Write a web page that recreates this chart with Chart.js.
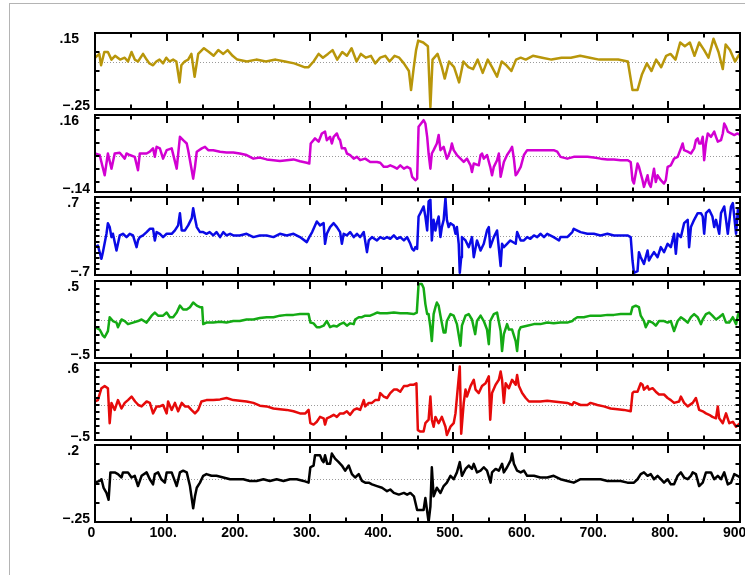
<!DOCTYPE html>
<html>
<head>
<meta charset="utf-8">
<script src="https://cdn.jsdelivr.net/npm/chart.js@4"></script>
<style>
  body { margin: 0; background: #fff; }
  #page { position: relative; width: 745px; height: 575px; overflow: hidden; }
  #frame { position: absolute; left: 9px; top: 3px; width: 900px; height: 700px;
           border-top: 1px solid #b4b4b4; border-left: 1px solid #b4b4b4; }
</style>
</head>
<body>
<div id="page"><div id="frame"></div></div>
<script>
// bottom axis labels (every 100)
const xTickValues = [0, 100, 200, 300, 400, 500, 600, 700, 800, 900];
const xTickLabels = ['0', '100.', '200.', '300.', '400.', '500.', '600.', '700.', '800.', '900.'];

// y range labels for each panel, top to bottom
const yMaxLabels = ['.15', '.16', '.7', '.5', '.6', '.2'];
const yMinLabels = ['\u2212.25', '\u2212.14', '\u2212.7', '\u2212.5', '\u2212.5', '\u2212.25'];

// panel 1
const goldX = [0, 6, 8.5, 13, 18, 23, 28, 35, 41.5, 46,
  51, 55.5, 60, 67, 72, 76, 81, 85.5, 90, 95,
  99.5, 104, 109, 113.5, 118, 120.5, 125, 130, 134.5, 139,
  144, 152, 159, 165.5, 172, 179, 185, 192, 198.5, 212,
  225, 238.5, 252, 265, 278, 292, 298, 305, 312, 318,
  325, 331.5, 338, 345, 351.5, 358, 365, 371, 378, 385,
  391, 398, 405, 411, 418, 424.5, 431, 438, 441, 444.5,
  448, 451, 458, 464.5, 468, 471, 478, 484, 488, 494,
  501, 508, 514, 521, 527.5, 534, 541, 548, 554, 561,
  567.5, 574, 581, 587.5, 594, 601, 611, 624, 637, 651,
  664, 677, 690.5, 703.5, 717, 730, 743.5, 750, 757, 763,
  770, 776.5, 783, 790, 797, 803, 810, 816.5, 823, 830,
  836.5, 843, 850, 856, 863, 870, 876, 880, 886, 893,
  899.5];
const goldY = [0.02, 0.04, -0.02, 0.05, 0.05, 0.01, 0.03, 0.01, 0.02, 0.00,
  0.05, 0.01, 0.00, 0.04, 0.01, -0.01, -0.02, 0.00, 0.01, -0.01,
  0.02, 0.00, 0.01, 0.00, -0.11, -0.02, 0.00, 0.01, 0.04, -0.08,
  0.04, 0.07, 0.05, 0.03, 0.06, 0.04, 0.06, 0.03, 0.01, 0.00,
  0.01, 0.00, 0.01, 0.00, -0.01, -0.03, -0.03, 0.00, 0.04, 0.02,
  0.04, 0.06, 0.01, 0.05, 0.03, 0.07, 0.00, 0.04, 0.02, 0.03,
  -0.01, 0.02, 0.03, 0.00, 0.03, 0.02, -0.01, -0.05, -0.15, -0.04,
  0.06, 0.11, 0.10, 0.08, -0.24, 0.01, 0.04, -0.03, -0.09, 0.00,
  -0.03, -0.11, 0.00, -0.03, -0.04, 0.01, -0.06, 0.01, -0.03, -0.08,
  0.00, -0.02, -0.05, 0.01, 0.02, 0.01, 0.03, 0.02, 0.01, 0.02,
  0.02, 0.03, 0.02, 0.01, 0.01, 0.01, 0.00, -0.15, -0.15, -0.07,
  -0.01, -0.05, 0.01, -0.03, 0.03, 0.04, 0.01, 0.10, 0.08, 0.10,
  0.03, 0.10, 0.06, 0.02, 0.12, 0.05, -0.04, 0.09, 0.06, 0.00,
  0.04];

// panel 2
const magentaX = [0, 6.5, 13.5, 18, 23, 27.5, 34.5, 41.5, 44, 48.5,
  55.5, 60, 62.5, 72, 76.5, 81, 83.5, 86, 90.5, 95,
  100, 107, 114, 118.5, 123, 128, 130, 135, 137, 139.5,
  142, 149, 153.5, 158, 165, 174.5, 183.5, 193, 202, 211.5,
  221, 230, 239.5, 249, 258, 267.5, 277, 286, 295.5, 299,
  301, 307, 312, 316.5, 321, 323.5, 328, 330.5, 333, 337.5,
  340, 342, 344.5, 349, 351.5, 356, 361, 365.5, 370, 377,
  384, 393.5, 398, 403, 407.5, 412, 417, 421.5, 426, 431,
  435.5, 440, 442.5, 447, 449.5, 451.5, 458.5, 461, 463.5, 465.5,
  468, 470, 472.5, 477, 479.5, 482, 486.5, 491, 493.5, 496,
  498, 500.5, 505, 510, 514.5, 519, 524, 526, 528.5, 535.5,
  538, 540, 542.5, 547, 551.5, 554, 556.5, 561, 563.5, 566,
  568, 570.5, 575, 579.5, 582, 584.5, 587, 589, 594, 598.5,
  603, 612.5, 621.5, 631, 640, 645, 649.5, 659, 668, 677.5,
  687, 696, 705.5, 715, 724, 733.5, 743, 747.5, 750, 752,
  757, 759, 761.5, 764, 766, 771, 773, 775.5, 780, 782.5,
  785, 789.5, 794, 796.5, 799, 803.5, 808, 813, 817.5, 820,
  822, 827, 831.5, 836, 838.5, 841, 843, 845.5, 848, 850,
  852.5, 855, 859.5, 864, 866.5, 869, 873.5, 876, 878, 880.5,
  883, 887.5, 892, 896.5, 900];
const magentaY = [0.010, 0.004, -0.075, 0.010, -0.049, 0.010, 0.013, -0.010, 0.010, 0.004,
  -0.003, -0.055, 0.010, 0.010, 0.017, 0.030, -0.003, 0.036, 0.030, -0.010,
  0.023, 0.030, -0.049, 0.075, 0.062, 0.049, 0.023, -0.055, -0.088, -0.042,
  0.017, 0.030, 0.036, 0.023, 0.023, 0.017, 0.014, 0.014, 0.010, 0.004,
  -0.010, -0.006, -0.013, -0.016, -0.019, -0.016, -0.013, -0.020, -0.026, -0.029,
  0.049, 0.069, 0.056, 0.088, 0.095, 0.062, 0.075, 0.049, 0.075, 0.088,
  0.069, 0.062, 0.030, 0.030, 0.010, 0.004, -0.010, -0.003, -0.016, -0.010,
  -0.023, -0.023, -0.026, -0.042, -0.042, -0.036, -0.042, -0.049, -0.036, -0.049,
  -0.042, -0.049, -0.081, -0.094, -0.088, 0.114, 0.140, 0.127, 0.075, 0.010,
  -0.049, 0.010, 0.023, 0.049, 0.082, 0.023, 0.036, -0.010, 0.004, 0.023,
  0.049, 0.023, 0.004, -0.010, -0.023, -0.010, -0.036, -0.062, -0.029, -0.036,
  0.004, 0.010, -0.010, 0.004, -0.042, -0.075, -0.042, -0.016, 0.010, -0.081,
  -0.055, -0.023, 0.004, 0.023, 0.036, -0.010, -0.075, -0.068, -0.042, 0.004,
  0.023, 0.023, 0.023, 0.023, 0.023, 0.017, -0.003, -0.010, -0.003, -0.003,
  -0.003, -0.006, -0.010, -0.013, -0.013, -0.016, -0.016, -0.023, -0.094, -0.107,
  -0.029, -0.042, -0.068, -0.094, -0.120, -0.075, -0.107, -0.120, -0.049, -0.101,
  -0.075, -0.094, -0.107, -0.094, -0.042, -0.036, -0.010, -0.003, 0.030, 0.049,
  0.023, 0.017, 0.010, 0.030, 0.062, 0.069, 0.049, 0.049, 0.075, -0.016,
  0.049, 0.088, 0.075, 0.095, 0.075, 0.056, 0.062, 0.088, 0.127, 0.114,
  0.095, 0.088, 0.082, 0.088, 0.082];

// panel 3
const blueX = [0, 4, 9, 11, 16, 18, 20.5, 23, 25, 30,
  34.5, 39, 44, 48.5, 53, 58, 60, 62.5, 67, 72,
  76.5, 81, 83.5, 86, 90.5, 95, 100, 107, 111.5, 116,
  118.5, 121, 125.5, 130, 135, 137, 139.5, 142, 146.5, 151,
  155.5, 160, 165, 169.5, 174.5, 179, 183.5, 188.5, 193, 202,
  211.5, 221, 230, 239.5, 249, 258, 267.5, 277, 286, 295.5,
  299, 303, 309.5, 314, 319, 321, 323.5, 328, 333, 337.5,
  342, 344.5, 347, 351.5, 356, 361, 365.5, 370, 375, 379.5,
  382, 386.5, 393.5, 398, 403, 407.5, 412, 417, 421.5, 426,
  431, 435.5, 440, 442.5, 445, 447, 449.5, 451.5, 454, 458.5,
  461, 463.5, 465.5, 468, 470, 472.5, 475, 477, 479.5, 482,
  484, 486.5, 489, 491, 493.5, 496, 500.5, 503, 505, 507.5,
  509, 511, 512, 517, 521.5, 526, 528.5, 533, 538, 542.5,
  547, 549.5, 551.5, 556.5, 561, 566, 568, 570.5, 575, 579.5,
  587, 589, 594, 598.5, 603, 607.5, 612.5, 617, 621.5, 626.5,
  631, 640, 647.5, 649.5, 659, 666, 668, 677.5, 687, 696,
  705.5, 715, 724, 733.5, 743, 747.5, 750, 752, 757, 759,
  761.5, 766, 771, 773, 775.5, 780, 785, 789.5, 794, 799,
  803.5, 808, 810.5, 813, 817.5, 822, 827, 829, 831.5, 836,
  841, 845.5, 848, 850, 852.5, 857, 861.5, 864, 866.5, 871,
  873.5, 878, 880.5, 883, 887.5, 890, 894.5, 897, 900];
const blueY = [-0.20, -0.17, -0.41, -0.29, 0.04, 0.23, 0.16, -0.02, 0.04, -0.26,
  0.01, 0.04, -0.02, 0.04, 0.01, -0.20, -0.08, -0.02, 0.01, 0.07,
  0.13, 0.13, -0.08, 0.07, 0.04, -0.02, 0.04, 0.04, 0.10, 0.19,
  0.41, 0.10, 0.10, 0.19, 0.32, 0.50, 0.32, 0.16, 0.07, 0.07,
  0.04, 0.07, 0.01, 0.07, -0.02, 0.07, 0.01, 0.04, 0.01, 0.01,
  0.04, -0.02, 0.01, 0.01, -0.02, 0.04, 0.01, 0.04, -0.02, -0.11,
  -0.02, 0.07, 0.26, 0.19, 0.23, -0.14, 0.04, 0.16, 0.23, 0.16,
  0.07, -0.14, 0.04, 0.01, 0.07, -0.02, 0.04, -0.02, 0.07, -0.29,
  -0.08, -0.02, -0.08, -0.02, -0.05, -0.02, -0.05, 0.01, -0.05, -0.02,
  -0.08, -0.02, -0.14, -0.23, -0.26, -0.20, -0.23, 0.35, 0.41, 0.53,
  0.35, 0.10, 0.62, 0.65, -0.08, 0.29, 0.10, 0.23, 0.35, -0.02,
  0.16, 0.29, 0.68, 0.29, 0.16, 0.23, 0.19, 0.04, 0.16, -0.14,
  -0.66, -0.38, -0.02, -0.08, -0.20, -0.02, -0.38, -0.08, -0.26, -0.14,
  0.10, 0.16, -0.20, -0.02, 0.10, -0.54, -0.14, -0.20, -0.14, -0.08,
  -0.14, 0.07, -0.08, -0.08, -0.02, -0.05, 0.01, -0.02, 0.04, -0.02,
  0.04, -0.02, -0.08, -0.02, -0.02, 0.07, 0.13, 0.07, 0.04, 0.04,
  0.01, 0.04, 0.01, 0.01, 0.01, -0.02, -0.44, -0.66, -0.63, -0.29,
  -0.38, -0.50, -0.26, -0.44, -0.38, -0.29, -0.38, -0.20, -0.29, -0.14,
  -0.20, 0.04, -0.32, 0.04, -0.02, 0.23, 0.29, -0.20, 0.16, 0.29,
  0.41, 0.41, 0.35, 0.04, 0.41, 0.47, 0.35, 0.16, 0.29, 0.04,
  0.41, 0.53, 0.29, 0.04, 0.53, 0.59, 0.04, 0.47, 0.32];

// panel 4
const greenX = [0, 6.5, 11, 13.5, 18, 20.5, 25, 30, 32, 37,
  41.5, 46, 53, 60, 65, 72, 79, 83.5, 88, 95,
  100, 104.5, 109, 114, 118.5, 123, 128, 132.5, 137, 142,
  146.5, 149.5, 151, 155.5, 165, 174.5, 183.5, 193, 202, 211.5,
  221, 230, 239.5, 249, 258, 267.5, 277, 286, 298, 300.5,
  305, 309.5, 314, 319, 323.5, 328, 333, 337.5, 342, 347,
  351.5, 356, 361, 363, 368, 372.5, 377, 384, 389, 393.5,
  398, 407.5, 417, 426, 435.5, 444.5, 449, 451.5, 456, 458.5,
  461, 463.5, 465.5, 468, 470, 472.5, 475, 477, 479.5, 482,
  486.5, 489, 491, 496, 500.5, 505, 510, 512, 517, 521.5,
  526, 530.5, 533, 538, 542.5, 547, 549.5, 551.5, 556.5, 561,
  566, 568, 570.5, 575, 577.5, 582, 587, 589, 591.5, 594,
  603, 612.5, 621.5, 631, 640, 649.5, 659, 666, 668, 673,
  682, 691.5, 705.5, 715, 724, 733.5, 747.5, 750, 754.5, 759,
  761.5, 766, 768.5, 773, 778, 782.5, 787, 794, 799, 803.5,
  808, 813, 817.5, 822, 827, 831.5, 836, 841, 845.5, 848,
  852.5, 857, 861.5, 866.5, 871, 876, 880.5, 885, 890, 894.5,
  897.5, 900];
const greenY = [-0.10, -0.13, -0.21, -0.23, -0.15, 0.03, -0.02, -0.04, -0.10, 0.00,
  -0.02, -0.06, -0.04, -0.02, 0.00, -0.04, 0.05, 0.09, 0.05, 0.05,
  0.09, 0.03, 0.03, 0.09, 0.18, 0.13, 0.13, 0.16, 0.22, 0.18,
  0.16, 0.16, -0.06, -0.04, -0.04, -0.03, -0.04, -0.02, -0.02, 0.00,
  0.00, 0.02, 0.03, 0.03, 0.05, 0.06, 0.06, 0.07, 0.07, -0.04,
  -0.05, -0.10, -0.10, -0.08, -0.02, -0.10, -0.08, -0.09, -0.06, -0.04,
  -0.08, -0.05, -0.06, 0.00, 0.03, 0.03, 0.05, 0.05, 0.07, 0.09,
  0.08, 0.08, 0.09, 0.08, 0.08, 0.07, 0.09, 0.46, 0.46, 0.41,
  0.20, 0.07, 0.07, -0.10, -0.28, 0.07, 0.16, 0.22, 0.18, 0.05,
  -0.17, -0.17, -0.02, 0.07, 0.05, -0.06, -0.34, -0.08, 0.05, 0.07,
  0.00, -0.19, -0.02, 0.05, -0.02, -0.13, -0.32, -0.02, 0.07, 0.09,
  -0.15, -0.41, -0.19, -0.06, -0.13, -0.13, -0.28, -0.41, -0.15, -0.10,
  -0.08, -0.06, -0.06, -0.04, -0.05, -0.04, -0.04, -0.02, 0.00, 0.03,
  0.03, 0.05, 0.05, 0.06, 0.06, 0.07, 0.07, 0.16, 0.18, 0.16,
  0.05, -0.02, -0.10, -0.02, -0.04, -0.08, -0.02, -0.02, -0.04, -0.02,
  -0.15, -0.02, 0.03, 0.00, -0.04, 0.03, 0.07, 0.03, -0.06, 0.00,
  0.07, 0.09, 0.05, 0.00, 0.03, 0.07, -0.04, -0.04, 0.03, -0.06,
  0.07, 0.09];

// panel 5
const redX = [0, 4, 9, 13.5, 18, 20.5, 23, 27.5, 32, 37,
  41.5, 46, 51, 56, 60.5, 65, 72, 76.5, 81, 86,
  90.5, 95, 100, 102, 107, 111.5, 116, 121, 125.5, 130,
  134.5, 139.5, 144, 148.5, 155.5, 165, 174.5, 183.5, 193, 202,
  211.5, 221, 230, 239.5, 249, 258, 267.5, 277, 286, 293.5,
  298, 300.5, 305, 309.5, 314, 319, 321, 323.5, 328, 333,
  337.5, 342, 347, 351.5, 356, 361, 365.5, 370, 375, 377,
  382, 386.5, 391, 396, 398, 403, 407.5, 412, 417, 421.5,
  426, 431, 435.5, 440, 445, 448.5, 450.5, 454, 458.5, 461,
  465.5, 468, 470, 472.5, 475, 479.5, 484, 489, 491, 496,
  500.5, 503, 506, 509, 511, 514.5, 517, 519, 524, 528.5,
  531, 535.5, 540, 545, 549.5, 551.5, 554, 559, 563.5, 566,
  568, 570.5, 573, 577.5, 582, 587, 589, 591.5, 596, 601,
  605.5, 612.5, 621.5, 631, 640, 649.5, 659, 666, 668, 677.5,
  687, 691.5, 701, 710, 719.5, 729, 738, 747.5, 750, 752,
  757, 761.5, 764, 766, 771, 773, 778, 782.5, 787, 794,
  799, 803.5, 808, 815, 817.5, 822, 827, 834, 838.5, 843,
  848, 852.5, 857, 861.5, 866.5, 869, 871, 876, 880.5, 885,
  890, 894.5, 900];
const redY = [0.05, 0.07, 0.24, 0.27, 0.24, -0.26, 0.03, -0.07, 0.07, -0.05,
  0.03, 0.07, 0.12, 0.05, 0.00, -0.02, 0.05, 0.03, -0.12, -0.02,
  -0.02, 0.00, -0.12, 0.05, -0.07, 0.03, -0.09, 0.03, -0.02, -0.02,
  -0.07, -0.12, -0.07, 0.05, 0.07, 0.07, 0.08, 0.10, 0.07, 0.06,
  0.05, 0.03, -0.01, -0.02, -0.05, -0.06, -0.07, -0.09, -0.12, -0.12,
  -0.07, -0.26, -0.28, -0.24, -0.17, -0.19, -0.28, -0.19, -0.17, -0.14,
  -0.17, -0.12, -0.12, -0.09, -0.14, -0.07, -0.05, -0.07, 0.07, -0.02,
  0.03, 0.03, 0.07, 0.07, 0.17, 0.12, 0.10, 0.17, 0.22, 0.22,
  0.19, 0.27, 0.27, 0.29, 0.29, 0.31, -0.36, -0.38, -0.38, -0.26,
  -0.21, 0.12, -0.21, -0.31, -0.17, -0.26, -0.17, -0.31, -0.43, -0.31,
  -0.26, -0.12, 0.22, 0.55, -0.41, 0.03, 0.22, 0.12, 0.27, 0.36,
  0.22, 0.17, 0.27, 0.31, 0.41, -0.21, 0.17, 0.29, 0.36, 0.48,
  0.36, 0.03, 0.31, 0.24, 0.36, 0.29, 0.43, 0.27, 0.17, 0.10,
  0.05, 0.05, 0.05, 0.06, 0.05, 0.04, 0.03, 0.00, 0.04, 0.00,
  0.00, 0.03, 0.00, -0.02, -0.05, -0.06, -0.07, -0.09, 0.17, 0.19,
  0.19, 0.31, 0.29, 0.22, 0.27, 0.22, 0.24, 0.19, 0.15, 0.15,
  0.10, 0.07, 0.03, 0.05, 0.12, 0.03, -0.02, 0.03, 0.10, -0.07,
  -0.09, -0.12, -0.14, -0.17, -0.19, -0.02, -0.19, -0.26, -0.12, -0.26,
  -0.24, -0.31, -0.26];

// panel 6
const blackX = [0, 6.5, 9, 12, 16, 19, 21.5, 27.5, 32, 37,
  39, 46, 51, 55.5, 60, 65, 72, 76.5, 81, 83.5,
  88, 92.5, 97.5, 100, 107, 114, 118.5, 123, 128, 132.5,
  137, 139.5, 142, 146.5, 151, 155.5, 162.5, 169.5, 179, 188.5,
  197.5, 207, 216, 225.5, 235, 244, 253.5, 263, 272, 281.5,
  291, 298, 300.5, 305, 307, 314, 317, 319, 321, 324,
  328, 330.5, 335, 340, 344.5, 349, 354, 358.5, 363, 368,
  372.5, 377, 382, 386.5, 393.5, 400.5, 407.5, 412, 417, 424,
  431, 435.5, 440, 445, 449.5, 458.5, 461, 465.5, 468, 470,
  472.5, 477, 482, 486.5, 491, 496, 500.5, 505, 509, 512,
  517, 521.5, 526, 528.5, 533, 538, 542.5, 547, 552, 554,
  559, 563.5, 568, 570.5, 575, 580, 582, 584.5, 589, 594,
  598.5, 603, 612.5, 621.5, 631, 640, 649.5, 659, 668, 677.5,
  687, 696, 705.5, 715, 724, 733.5, 743, 752, 757, 761.5,
  766, 771, 775.5, 780, 785, 789.5, 794, 799, 803.5, 808,
  813, 817.5, 822, 827, 831.5, 834, 838.5, 843, 848, 852.5,
  859.5, 864, 869, 873.5, 878, 883, 887.5, 892, 896.5, 900];
const blackY = [-0.02, -0.01, 0.00, -0.05, -0.08, -0.12, 0.04, 0.04, 0.03, 0.01,
  0.04, 0.04, 0.01, 0.02, -0.04, 0.02, 0.04, 0.00, -0.03, 0.03,
  0.04, 0.00, -0.02, 0.04, 0.04, -0.04, 0.04, 0.05, 0.04, -0.04,
  -0.17, -0.10, -0.05, -0.02, 0.02, 0.03, 0.02, 0.02, 0.01, 0.00,
  0.00, 0.00, -0.01, -0.01, 0.00, -0.01, 0.00, -0.01, 0.00, 0.00,
  -0.01, -0.02, 0.07, 0.08, 0.14, 0.14, 0.11, 0.10, 0.14, 0.09,
  0.09, 0.15, 0.12, 0.10, 0.08, 0.05, 0.08, 0.03, 0.01, 0.03,
  -0.01, -0.02, -0.02, -0.03, -0.04, -0.05, -0.07, -0.06, -0.08, -0.09,
  -0.08, -0.09, -0.08, -0.10, -0.18, -0.18, -0.11, -0.25, -0.16, 0.07,
  -0.10, -0.05, -0.08, -0.04, -0.02, 0.02, 0.00, 0.04, 0.10, 0.02,
  0.06, 0.08, 0.06, 0.09, 0.04, 0.05, 0.07, 0.05, -0.02, 0.04,
  0.06, 0.05, 0.09, 0.04, 0.07, 0.11, 0.15, 0.09, 0.05, 0.04,
  0.05, 0.02, 0.02, 0.01, 0.01, 0.02, 0.00, -0.01, -0.02, 0.00,
  0.00, 0.00, 0.00, -0.01, -0.01, -0.01, -0.02, -0.02, 0.00, 0.03,
  0.04, 0.02, 0.03, 0.00, 0.02, 0.00, -0.02, 0.00, -0.03, -0.03,
  0.02, 0.04, 0.01, 0.00, 0.02, 0.04, 0.03, -0.04, -0.02, 0.04,
  0.04, 0.00, 0.02, 0.00, 0.04, -0.03, -0.02, 0.03, 0.02, 0.01];

// one chart per strip; top/bottom are the pixel edges of each plot box
const panels = [
  { xs: goldX, ys: goldY, color: '#b8960a', min: -0.25, max: 0.15, top: 33, bottom: 109, ticks: [-0.15, -0.05, 0.05] },
  { xs: magentaX, ys: magentaY, color: '#d200d2', min: -0.14, max: 0.16, top: 115, bottom: 192, ticks: [-0.10, -0.05, 0, 0.05, 0.10, 0.15] },
  { xs: blueX, ys: blueY, color: '#0a0ae6', min: -0.7, max: 0.7, top: 197, bottom: 275, ticks: [-0.6, -0.5, -0.4, -0.3, -0.2, -0.1, 0, 0.1, 0.2, 0.3, 0.4, 0.5, 0.6] },
  { xs: greenX, ys: greenY, color: '#14aa14', min: -0.5, max: 0.5, top: 281, bottom: 358, ticks: [-0.4, -0.3, -0.2, -0.1, 0, 0.1, 0.2, 0.3, 0.4] },
  { xs: redX, ys: redY, color: '#e60a0a', min: -0.5, max: 0.6, top: 363, bottom: 440, ticks: [-0.4, -0.3, -0.2, -0.1, 0, 0.1, 0.2, 0.3, 0.4, 0.5] },
  { xs: blackX, ys: blackY, color: '#000000', min: -0.25, max: 0.2, top: 445, bottom: 522, ticks: [-0.1375, -0.025, 0.0875] }
];

const PAD = 12;
const FONT = 'bold 14px "Liberation Sans", Arial, sans-serif';

// frame, inward ticks, dotted zero line and labels
const stripDecor = {
  id: 'stripDecor',
  beforeDatasetsDraw(chart, args, opts) {
    const { ctx, chartArea: a, scales } = chart;
    const y0 = scales.y.getPixelForValue(0);
    ctx.save();
    ctx.strokeStyle = '#9a9a9a';
    ctx.lineWidth = 1;
    ctx.setLineDash([1, 2]);
    ctx.beginPath();
    ctx.moveTo(a.left, Math.round(y0) + 0.5);
    ctx.lineTo(a.right, Math.round(y0) + 0.5);
    ctx.stroke();
    ctx.restore();
  },
  afterDatasetsDraw(chart, args, opts) {
    const { ctx, chartArea: a, scales } = chart;
    const p = opts.panel;
    ctx.save();
    ctx.strokeStyle = '#000';
    ctx.lineWidth = 2;
    ctx.strokeRect(a.left, a.top, a.right - a.left, a.bottom - a.top);

    ctx.beginPath();
    for (let v = 50; v < 900; v += 50) {
      const px = Math.round(scales.x.getPixelForValue(v));
      const len = v % 100 === 0 ? 8 : 4.5;
      ctx.moveTo(px, a.top); ctx.lineTo(px, a.top + len);
      ctx.moveTo(px, a.bottom); ctx.lineTo(px, a.bottom - len);
    }
    p.ticks.forEach(v => {
      const py = Math.round(scales.y.getPixelForValue(v));
      ctx.moveTo(a.left, py); ctx.lineTo(a.left + 4.5, py);
      ctx.moveTo(a.right, py); ctx.lineTo(a.right - 4.5, py);
    });
    ctx.stroke();

    ctx.fillStyle = '#000';
    ctx.font = FONT;
    ctx.textAlign = 'right';
    ctx.textBaseline = 'middle';
    ctx.fillText(yMaxLabels[opts.index], 79, a.top + 6);
    ctx.fillText(yMinLabels[opts.index], 90, a.bottom - 3);

    if (opts.index === panels.length - 1) {
      ctx.textAlign = 'center';
      xTickValues.forEach((v, i) => {
        ctx.fillText(xTickLabels[i], scales.x.getPixelForValue(v) - 3.5, a.bottom + 11);
      });
    }
    ctx.restore();
  }
};

const page = document.getElementById('page');

panels.forEach((p, i) => {
  const last = i === panels.length - 1;
  const extra = last ? 26 : 0;
  const canvas = document.createElement('canvas');
  canvas.width = 745;
  canvas.height = p.bottom - p.top + 2 * PAD + extra;
  canvas.style.position = 'absolute';
  canvas.style.left = '0px';
  canvas.style.top = (p.top - PAD) + 'px';
  page.appendChild(canvas);

  new Chart(canvas, {
    type: 'line',
    data: {
      datasets: [{
        data: p.xs.map((x, k) => ({ x: x, y: p.ys[k] })),
        borderColor: p.color,
        borderWidth: 2.5,
        borderJoinStyle: 'round',
        pointRadius: 0,
        tension: 0,
        fill: false
      }]
    },
    options: {
      responsive: false,
      animation: false,
      devicePixelRatio: 1,
      layout: { padding: { left: 95, right: 5, top: PAD, bottom: PAD + extra } },
      scales: {
        x: { type: 'linear', min: 0, max: 900, display: false },
        y: { min: p.min, max: p.max, display: false }
      },
      plugins: {
        legend: { display: false },
        tooltip: { enabled: false },
        stripDecor: { panel: p, index: i }
      }
    },
    plugins: [stripDecor]
  });
});
</script>
</body>
</html>
